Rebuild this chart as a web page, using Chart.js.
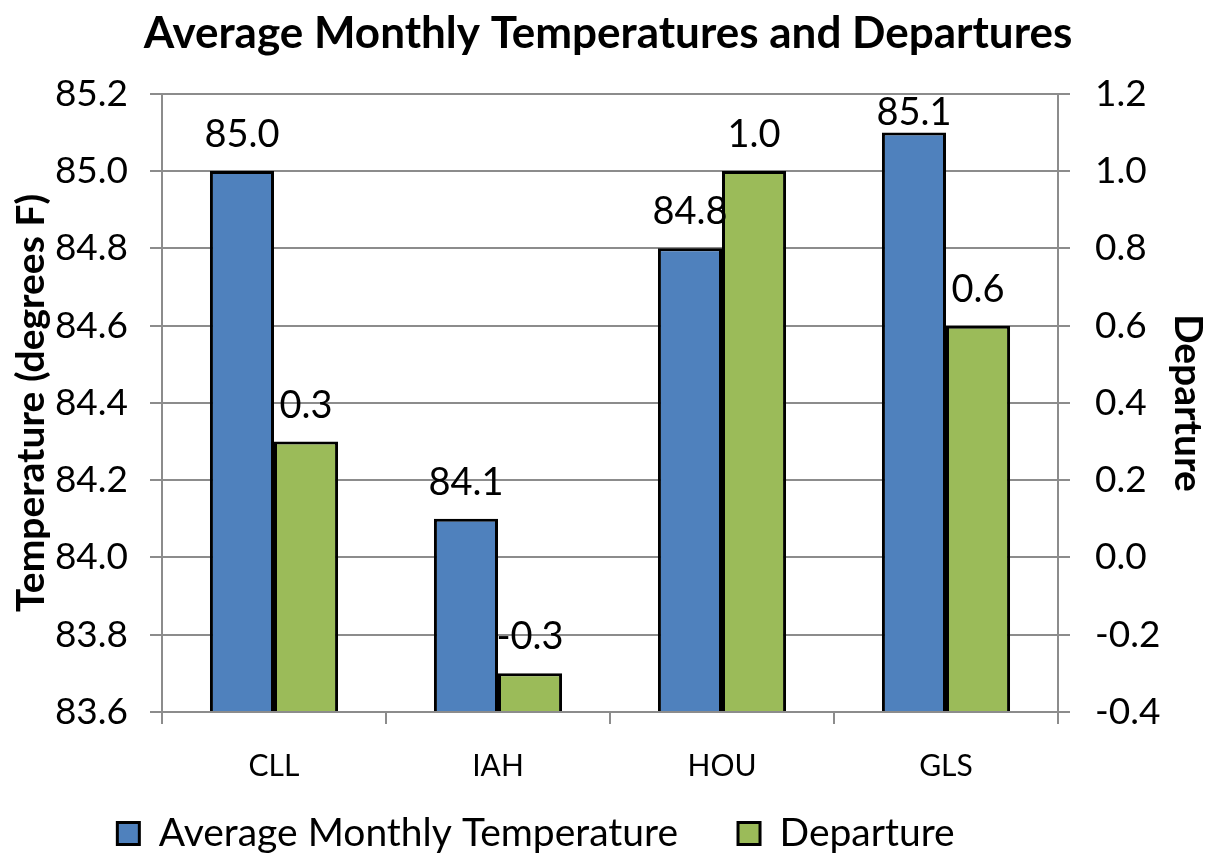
<!DOCTYPE html>
<html><head><meta charset="utf-8">
<script src="https://cdn.jsdelivr.net/npm/chart.js@4"></script>
<style>html,body{margin:0;padding:0;background:#fff}#wrap{width:1216px;height:855px;position:relative}</style>
</head><body><div id="wrap"><canvas id="c"></canvas></div>
<script>
const categories = ['CLL', 'IAH', 'HOU', 'GLS'];
const avgTemp = [85.0, 84.1, 84.8, 85.1];
const departure = [0.3, -0.3, 1.0, 0.6];
const tempRange = [83.6, 85.2];
const departureRange = [-0.4, 1.2];
const tickStep = 0.2;
const seriesNames = ['Average Monthly Temperature', 'Departure'];
const titleText = 'Average Monthly Temperatures and Departures';
const leftAxisTitle = 'Temperature (degrees F)';
const rightAxisTitle = 'Departure';

const FONT = 'Lato, "Open Sans", sans-serif';
const GRID = '#8c8c8c';

const valueLabels = {
  id: 'valueLabels',
  afterDatasetsDraw(chart) {
    const ctx = chart.ctx;
    const top = chart.chartArea.top;
    ctx.save();
    ctx.font = '38px ' + FONT;
    ctx.fillStyle = '#000';
    ctx.textAlign = 'center';
    ctx.textBaseline = 'alphabetic';
    chart.data.datasets.forEach((ds, di) => {
      const meta = chart.getDatasetMeta(di);
      meta.data.forEach((el, i) => {
        const yb = Math.max(el.y - 24, top + 31);
        ctx.fillText(ds.data[i].toFixed(1), el.x, yb);
      });
    });
    ctx.restore();
  }
};

const legendShift = {
  id: 'legendShift',
  afterLayout(chart) {
    const lg = chart.legend;
    lg.left -= 72; lg.right -= 72;
    lg.top -= 32; lg.height += 32;
  }
};

new Chart(document.getElementById('c'), {
  type: 'bar',
  data: {
    labels: categories,
    datasets: [
      { label: seriesNames[0], data: avgTemp, yAxisID: 'y', base: tempRange[0],
        backgroundColor: '#4F81BD', borderColor: '#000', borderWidth: 3 },
      { label: seriesNames[1], data: departure, yAxisID: 'y2', base: departureRange[0],
        backgroundColor: '#9BBB59', borderColor: '#000', borderWidth: 3 }
    ]
  },
  options: {
    responsive: true,
    maintainAspectRatio: false,
    animation: false,
    devicePixelRatio: 1,
    layout: { padding: 0 },
    datasets: { bar: { barPercentage: 1.0, categoryPercentage: 0.572 } },
    plugins: {
      title: { display: true, text: titleText, color: '#000',
        font: { family: FONT, size: 44, weight: 'bold' }, padding: { top: 7, bottom: 34 } },
      legend: { position: 'bottom', maxHeight: 69,
        labels: { color: '#000', font: { family: FONT, size: 39 }, boxWidth: 22, boxHeight: 22, padding: 60 } },
      tooltip: { enabled: false }
    },
    scales: {
      x: {
        grid: { display: true, drawOnChartArea: false, offset: true, color: GRID, lineWidth: 2, tickLength: 12 },
        border: { display: true, color: GRID, width: 2 },
        ticks: { color: '#000', font: { family: FONT, size: 30 }, padding: 24, autoSkip: false },
        afterFit: s => { s.height = 74; }
      },
      y: {
        position: 'left', min: tempRange[0], max: tempRange[1],
        ticks: { stepSize: tickStep, color: '#000', font: { family: FONT, size: 37 }, padding: 22,
          callback: v => Number(v).toFixed(1) },
        grid: { color: GRID, lineWidth: 2, tickLength: 12 },
        border: { display: true, color: GRID, width: 2 },
        title: { display: true, text: leftAxisTitle, color: '#000',
          font: { family: FONT, size: 39, weight: 'bold' }, padding: { top: 8, bottom: 0 } },
        afterFit: s => { s.width = 162; }
      },
      y2: {
        position: 'right', min: departureRange[0], max: departureRange[1],
        ticks: { stepSize: tickStep, color: '#000', font: { family: FONT, size: 37 }, padding: 25,
          callback: v => Number(v).toFixed(1) },
        grid: { drawOnChartArea: false, color: GRID, lineWidth: 2, tickLength: 12 },
        border: { display: true, color: GRID, width: 2 },
        title: { display: true, text: rightAxisTitle, color: '#000',
          font: { family: FONT, size: 39, weight: 'bold' }, padding: { top: 5, bottom: 0 } },
        afterFit: s => { s.width = 158; }
      }
    }
  },
  plugins: [valueLabels, legendShift]
});
</script></body></html>
